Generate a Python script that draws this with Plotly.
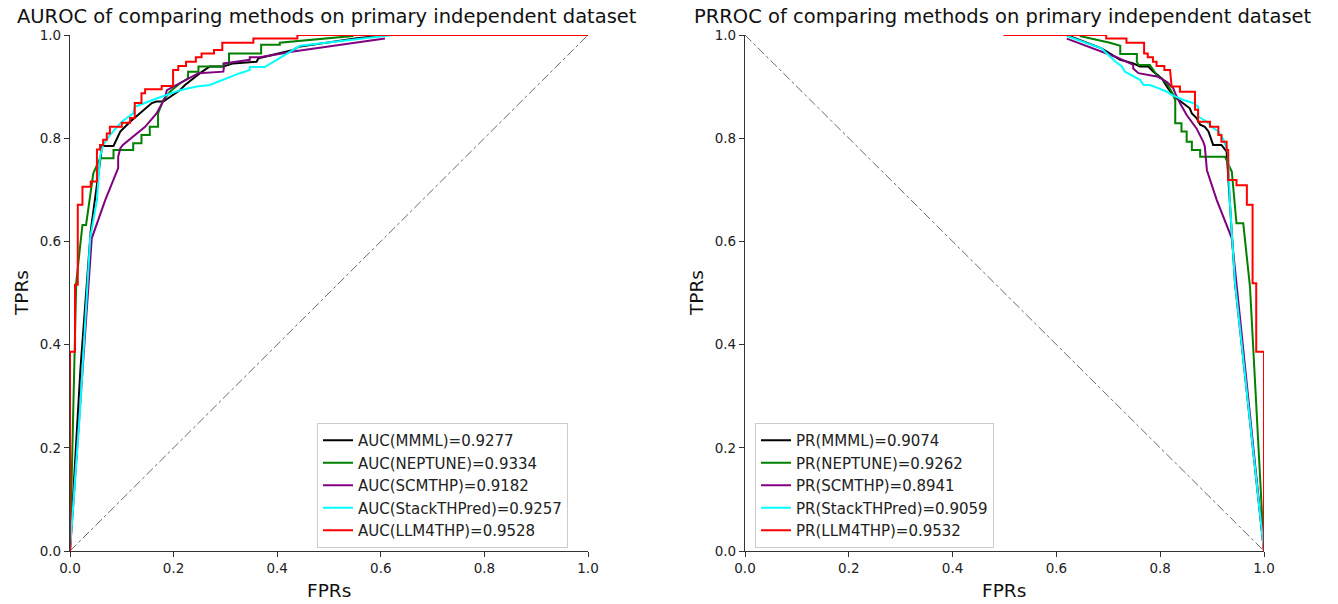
import plotly.graph_objects as go

# ---------------- data ----------------
methods = ["MMML", "NEPTUNE", "SCMTHP", "StackTHPred", "LLM4THP"]
colors = ["#000000", "#008000", "#800080", "#00FFFF", "#FF0000"]
auc_vals = ["0.9277", "0.9334", "0.9182", "0.9257", "0.9528"]
pr_vals = ["0.9074", "0.9262", "0.8941", "0.9059", "0.9532"]
tick_vals = [0.0, 0.2, 0.4, 0.6, 0.8, 1.0]
tick_text = ["0.0", "0.2", "0.4", "0.6", "0.8", "1.0"]

# ROC curves (x = FPR, y = TPR)
roc_x_mmml = [0, 0.02, 0.04, 0.055, 0.062, 0.084, 0.097, 0.116, 0.138, 0.158, 0.167, 0.180, 0.212, 0.222,
              0.251, 0.270, 0.296, 0.315, 0.360, 0.364, 0.431, 0.441, 0.55, 0.61, 1.0]
roc_y_mmml = [0, 0.35, 0.62, 0.74, 0.785, 0.785, 0.813, 0.832, 0.851, 0.868, 0.871, 0.871, 0.893, 0.903,
              0.926, 0.939, 0.939, 0.945, 0.948, 0.955, 0.971, 0.977, 0.993, 1.0, 1.0]

roc_x_nep = [0, 0.012, 0.024, 0.031, 0.045, 0.058, 0.084, 0.084, 0.122, 0.122, 0.138, 0.138, 0.154, 0.154,
             0.170, 0.170, 0.180, 0.193, 0.212, 0.228, 0.228, 0.248, 0.248, 0.296, 0.296, 0.307, 0.307,
             0.369, 0.369, 0.405, 0.405, 0.545, 0.545, 1.0]
roc_y_nep = [0, 0.52, 0.632, 0.632, 0.732, 0.761, 0.761, 0.777, 0.777, 0.790, 0.790, 0.806, 0.806, 0.822,
             0.822, 0.848, 0.874, 0.890, 0.906, 0.916, 0.929, 0.929, 0.939, 0.939, 0.945, 0.945, 0.964,
             0.964, 0.981, 0.981, 0.985, 0.998, 1.0, 1.0]

roc_x_scm = [0, 0.042, 0.068, 0.093, 0.093, 0.097, 0.102, 0.129, 0.145, 0.167, 0.183, 0.187, 0.206, 0.232,
             0.248, 0.296, 0.298, 0.347, 0.347, 0.367, 0.431, 0.608]
roc_y_scm = [0, 0.606, 0.680, 0.742, 0.764, 0.780, 0.787, 0.809, 0.822, 0.848, 0.877, 0.893, 0.903, 0.916,
             0.926, 0.929, 0.945, 0.952, 0.957, 0.957, 0.968, 0.993]

roc_x_stack = [0, 0.019, 0.039, 0.052, 0.058, 0.064, 0.077, 0.100, 0.122, 0.125, 0.167, 0.212, 0.245, 0.270,
               0.328, 0.347, 0.347, 0.376, 0.444, 0.624, 1.0]
roc_y_stack = [0, 0.267, 0.607, 0.680, 0.764, 0.787, 0.806, 0.832, 0.848, 0.861, 0.877, 0.893, 0.900, 0.903,
               0.926, 0.932, 0.938, 0.938, 0.979, 1.0, 1.0]

roc_x_llm = [0, 0, 0.0097, 0.0097, 0.015, 0.015, 0.024, 0.024, 0.040, 0.040, 0.052, 0.052, 0.058, 0.058,
             0.064, 0.064, 0.071, 0.071, 0.077, 0.077, 0.100, 0.100, 0.116, 0.116, 0.125, 0.125, 0.138, 0.138,
             0.145, 0.145, 0.177, 0.177, 0.199, 0.199, 0.209, 0.209, 0.224, 0.224, 0.243, 0.243, 0.254, 0.254,
             0.278, 0.278, 0.294, 0.294, 0.354, 0.354, 0.439, 0.439, 1.0]
roc_y_llm = [0, 0.386, 0.386, 0.516, 0.516, 0.671, 0.671, 0.706, 0.706, 0.716, 0.716, 0.778, 0.778, 0.787,
             0.787, 0.797, 0.797, 0.809, 0.809, 0.822, 0.822, 0.830, 0.830, 0.839, 0.839, 0.868, 0.868, 0.887,
             0.887, 0.895, 0.895, 0.901, 0.901, 0.932, 0.932, 0.940, 0.940, 0.948, 0.948, 0.957, 0.957, 0.964,
             0.964, 0.971, 0.971, 0.985, 0.985, 0.993, 0.993, 1.0, 1.0]

# PR curves (x = precision, y = recall)
pr_x_mmml = [0.620, 0.687, 0.723, 0.748, 0.761, 0.777, 0.787, 0.803, 0.813, 0.822, 0.832, 0.845, 0.857,
             0.861, 0.870, 0.877, 0.886, 0.893, 0.902, 0.918, 0.928, 0.944, 1.0]
pr_y_mmml = [1.0, 0.974, 0.952, 0.945, 0.939, 0.939, 0.929, 0.916, 0.900, 0.887, 0.877, 0.868, 0.858,
             0.848, 0.839, 0.826, 0.822, 0.813, 0.787, 0.787, 0.774, 0.521, 0.0]

pr_x_nep = [0.645, 0.703, 0.723, 0.723, 0.755, 0.755, 0.758, 0.780, 0.787, 0.793, 0.803, 0.813, 0.822,
            0.829, 0.829, 0.841, 0.841, 0.851, 0.851, 0.861, 0.861, 0.877, 0.877, 0.925, 0.938, 0.947,
            0.960, 0.973, 1.0]
pr_y_nep = [0.998, 0.985, 0.979, 0.963, 0.963, 0.948, 0.942, 0.942, 0.932, 0.922, 0.916, 0.906, 0.890,
            0.874, 0.829, 0.829, 0.813, 0.813, 0.793, 0.793, 0.777, 0.777, 0.764, 0.764, 0.735, 0.635,
            0.635, 0.512, 0.0]

pr_x_scm = [0.620, 0.684, 0.716, 0.748, 0.748, 0.758, 0.796, 0.813, 0.825, 0.829, 0.838, 0.851, 0.870,
            0.883, 0.886, 0.890, 0.909, 0.938, 1.0]
pr_y_scm = [0.993, 0.968, 0.957, 0.942, 0.935, 0.926, 0.919, 0.909, 0.897, 0.887, 0.868, 0.845, 0.819,
            0.793, 0.784, 0.738, 0.680, 0.606, 0.0]

pr_x_stack = [0.620, 0.687, 0.713, 0.726, 0.732, 0.761, 0.768, 0.780, 0.796, 0.813, 0.822, 0.845, 0.864,
              0.873, 0.873, 0.890, 0.899, 0.912, 0.922, 0.931, 0.934, 0.944, 1.0]
pr_y_stack = [0.998, 0.974, 0.949, 0.939, 0.929, 0.913, 0.903, 0.903, 0.897, 0.890, 0.884, 0.874, 0.868,
              0.861, 0.842, 0.832, 0.822, 0.813, 0.797, 0.771, 0.680, 0.521, 0.0]

pr_x_llm = [0.498, 0.696, 0.696, 0.735, 0.735, 0.769, 0.769, 0.776, 0.776, 0.786, 0.786, 0.793, 0.793,
            0.808, 0.808, 0.819, 0.822, 0.838, 0.838, 0.867, 0.867, 0.873, 0.873, 0.896, 0.896, 0.912,
            0.912, 0.918, 0.918, 0.928, 0.928, 0.931, 0.931, 0.947, 0.947, 0.967, 0.967, 0.978, 0.978,
            0.985, 0.985, 1.0, 1.0]
pr_y_llm = [1.0, 1.0, 0.993, 0.993, 0.985, 0.985, 0.964, 0.964, 0.957, 0.957, 0.948, 0.948, 0.940,
            0.940, 0.932, 0.932, 0.900, 0.900, 0.890, 0.890, 0.855, 0.855, 0.832, 0.832, 0.822, 0.822,
            0.806, 0.806, 0.793, 0.793, 0.777, 0.777, 0.719, 0.719, 0.709, 0.709, 0.671, 0.671, 0.519,
            0.519, 0.386, 0.386, 0.0]

roc_diag_x = [0, 1]
roc_diag_y = [0, 1]
pr_diag_x = [0, 1]
pr_diag_y = [1, 0]

roc_xs = [roc_x_mmml, roc_x_nep, roc_x_scm, roc_x_stack, roc_x_llm]
roc_ys = [roc_y_mmml, roc_y_nep, roc_y_scm, roc_y_stack, roc_y_llm]
pr_xs = [pr_x_mmml, pr_x_nep, pr_x_scm, pr_x_stack, pr_x_llm]
pr_ys = [pr_y_mmml, pr_y_nep, pr_y_scm, pr_y_stack, pr_y_llm]

# ---------------- figure ----------------
W, H = 1338, 604
FONT = "DejaVu Sans"
fig = go.Figure()

fig.add_trace(go.Scatter(x=roc_diag_x, y=roc_diag_y, mode="lines", showlegend=False,
                         line=dict(color="#444444", width=0.8, dash="dashdot"),
                         xaxis="x", yaxis="y", hoverinfo="skip"))
fig.add_trace(go.Scatter(x=pr_diag_x, y=pr_diag_y, mode="lines", showlegend=False,
                         line=dict(color="#444444", width=0.8, dash="dashdot"),
                         xaxis="x2", yaxis="y2", hoverinfo="skip"))

for i, m in enumerate(methods):
    fig.add_trace(go.Scatter(x=roc_xs[i], y=roc_ys[i], mode="lines",
                             name=f"AUC({m})={auc_vals[i]}", legendgroup=f"a{i}",
                             line=dict(color=colors[i], width=2),
                             xaxis="x", yaxis="y", legend="legend"))
for i, m in enumerate(methods):
    fig.add_trace(go.Scatter(x=pr_xs[i], y=pr_ys[i], mode="lines",
                             name=f"PR({m})={pr_vals[i]}", legendgroup=f"p{i}",
                             line=dict(color=colors[i], width=2),
                             xaxis="x2", yaxis="y2", legend="legend2"))

def px_x(p):
    return p / W

def px_y(p):
    return (H - p) / H

ydom = [px_y(551), px_y(35)]
axis_common = dict(range=[0, 1], showgrid=False, zeroline=False, showline=True,
                   linecolor="#333333", linewidth=1.3, ticks="outside", ticklen=5,
                   tickwidth=1.2, tickcolor="#333333", tickvals=tick_vals, ticktext=tick_text,
                   tickfont=dict(family=FONT, size=13.5, color="#222222"), mirror=False,
                   automargin=False)

leg_common = dict(xanchor="left", yanchor="top",
                  bordercolor="#cccccc", borderwidth=1, bgcolor="rgba(255,255,255,0.85)",
                  font=dict(family=FONT, size=15, color="#222222"), tracegroupgap=0,
                  itemwidth=30)

fig.update_layout(
    width=W, height=H, autosize=False,
    margin=dict(l=0, r=0, t=0, b=0, pad=0, autoexpand=False),
    paper_bgcolor="white", plot_bgcolor="white",
    xaxis=dict(domain=[px_x(70), px_x(588)], anchor="y", **axis_common),
    yaxis=dict(domain=ydom, anchor="x", **axis_common),
    xaxis2=dict(domain=[px_x(745), px_x(1264)], anchor="y2", **axis_common),
    yaxis2=dict(domain=ydom, anchor="x2", **axis_common),
    legend=dict(x=px_x(317), y=px_y(423), **leg_common),
    legend2=dict(x=px_x(755), y=px_y(423), **leg_common),
)

ann_font = dict(family=FONT, size=19.5, color="#111111")
lab_font = dict(family=FONT, size=18.5, color="#111111")
annotations = [
    dict(text="AUROC of comparing methods on primary independent dataset", x=px_x(327), y=px_y(16),
         xref="paper", yref="paper", showarrow=False, xanchor="center", yanchor="middle", font=ann_font),
    dict(text="PRROC of comparing methods on primary independent dataset", x=px_x(1003), y=px_y(16),
         xref="paper", yref="paper", showarrow=False, xanchor="center", yanchor="middle", font=ann_font),
    dict(text="FPRs", x=px_x(329), y=px_y(590), xref="paper", yref="paper", showarrow=False,
         xanchor="center", yanchor="middle", font=lab_font),
    dict(text="FPRs", x=px_x(1004), y=px_y(590), xref="paper", yref="paper", showarrow=False,
         xanchor="center", yanchor="middle", font=lab_font),
    dict(text="TPRs", x=px_x(21), y=px_y(293), xref="paper", yref="paper", showarrow=False,
         xanchor="center", yanchor="middle", textangle=-90, font=lab_font),
    dict(text="TPRs", x=px_x(696), y=px_y(293), xref="paper", yref="paper", showarrow=False,
         xanchor="center", yanchor="middle", textangle=-90, font=lab_font),
]
fig.update_layout(annotations=annotations)

fig.write_html("out.html")
